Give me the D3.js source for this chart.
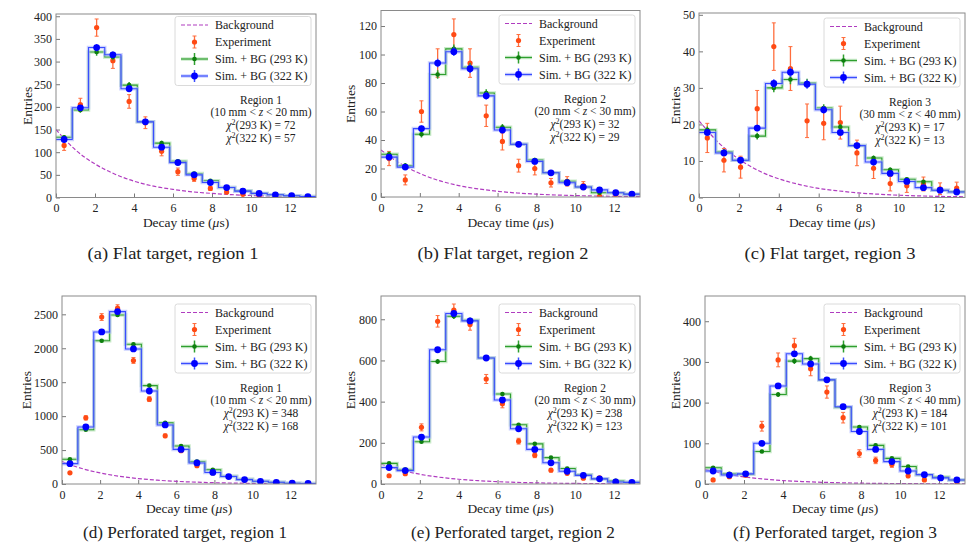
<!DOCTYPE html>
<html><head><meta charset="utf-8">
<script src="https://cdn.jsdelivr.net/npm/d3@7"></script>
<style>
body{margin:0;background:#fff;}
svg{display:block;}
text{font-family:"Liberation Serif","Times New Roman",serif;fill:#222;}
</style></head><body>
<svg id="c" width="968" height="542"></svg>
<script>
// ---------- DATA ----------
const binEdges = [0,0.833,1.667,2.5,3.333,4.167,5,5.833,6.667,7.5,8.333,9.167,10,10.833,11.667,12.5,13.333];
const bgTimes = [0,1,2,3,4,5,6,7,8,9,10,11,12,13.333];
const xTicks = [0,2,4,6,8,10,12];

const yTicksA = [0,50,100,150,200,250,300,350,400];
const yTicksB = [0,20,40,60,80,100,120];
const yTicksC = [0,10,20,30,40,50];
const yTicksD = [0,500,1000,1500,2000,2500];
const yTicksE = [0,200,400,600,800];
const yTicksF = [0,100,200,300,400];

const expA = [115,205,375,302,212,165,102,57,42,20,12,7,2,1,1,0.5];
const expErrA = [11,14,19,17,15,13,10,8,6.5,4.5,3.5,2.6,1.4,1,1,0.7];
const sim293A = [133,193,321,310,248,167,120,80,53,37,22,15,9,6,4,2];
const sim322A = [128,198,331,315,240,167,111,77,50,33,22,14,9,6,4,2];
const simErrA = [5,6,8,7,7,6,5,4,3.5,3,2.5,2,1.5,1.2,1,0.8];
const bgA = [150,105,74,52,36,25,18,12.5,9,6.3,4.4,3.1,2.2,1.3];

const expB = [27,12,60,94,114,94,57,39,22,20,10,11,8,0.5,2,1];
const expErrB = [5,3.5,7.5,10,11,10,7.5,6,4.5,4.5,3,3.3,2.8,0.7,1.4,1];
const sim293B = [30,22,44,86,104,91,73,49,37,26,17,11,7,3,3,2];
const sim322B = [28,21,48,94,102,90,71,47,37,25,17,10,7,5,3,2];
const simErrB = [2,1.8,2.2,3,3,3,2.6,2.2,1.9,1.6,1.3,1,0.8,0.6,0.5,0.4];
const bgB = [33,23.5,16.5,11.5,8,5.7,4,2.8,2,1.4,1,0.7,0.5,0.3];

const expC = [16.3,10.2,8.3,24.3,41.3,35.3,21,20.3,20.5,12.2,8,3.8,3.2,3.7,2.4,2.6];
const expErrC = [4,3.2,3,5,6.5,6,4.6,4.5,4.5,3.5,2.8,2,1.8,1.9,1.6,1.6];
const sim293C = [18.5,12.5,10.2,16.8,30,32.3,31.3,24.5,19.3,14.2,10.8,7.6,5,4.3,2,1.6];
const sim322C = [17.8,12.2,10.2,19,31.2,34.3,31,24,17.8,14.2,9.7,6.6,4.4,2.7,2,1.5];
const simErrC = [0.9,0.8,0.7,0.9,1.2,1.3,1.2,1,0.9,0.8,0.7,0.6,0.5,0.4,0.3,0.3];
const bgC = [21,14.9,10.5,7.3,5.1,3.6,2.5,1.8,1.25,0.9,0.62,0.44,0.31,0.2];

const expD = [165,975,2460,2590,1820,1250,710,490,270,165,110,60,35,20,10,5];
const expErrD = [13,31,50,51,43,35,27,22,16,13,10,8,6,4.5,3,2];
const sim293D = [365,800,2110,2490,2060,1450,900,560,330,210,115,70,40,25,12,8];
const sim322D = [300,840,2240,2540,1990,1370,870,510,310,170,110,65,40,25,12,8];
const simErrD = [10,15,25,27,24,20,16,12,9,7,5,4,3,2.5,2,1.5];
const bgD = [330,232,163,114,80,56,39,27.5,19,13.5,9.5,6.6,4.6,3];

const expE = [40,50,275,790,845,775,510,390,208,140,67,52,28,30,10,5];
const expErrE = [6,7,17,28,29,28,22,20,14,12,8,7,5,5.5,3,2];
const sim293E = [100,70,205,595,815,795,612,437,288,195,128,75,45,25,15,8];
const sim322E = [80,65,228,652,828,792,612,408,268,168,103,62,42,25,10,8];
const simErrE = [5,4,7,12,14,14,12,10,8,7,6,4,3,2.5,2,1.5];
const bgE = [97,68,47.5,33,23,16,11.3,7.9,5.5,3.9,2.7,1.9,1.3,0.9];

const expF = [10,18,22,142,305,340,283,226,163,75,58,48,20,10,15,5];
const expErrF = [3,4,5,12,17,18,17,15,13,9,8,7,4.5,3,4,2];
const sim293F = [40,25,24,80,220,302,308,256,188,140,95,63,43,23,17,10];
const sim322F = [32,22,25,100,241,320,295,256,190,129,85,55,32,23,15,10];
const simErrF = [2.5,2,2,4,6,7,7,6,5,4.5,4,3,2.5,2,1.8,1.5];
const bgF = [36,25,17.5,12.2,8.5,6,4.2,2.95,2.07,1.45,1.02,0.72,0.5,0.32];

const regionNames = ["Region 1","Region 2","Region 3","Region 1","Region 2","Region 3"];
const zLow = [10,20,30,10,20,30];
const zHigh = [20,30,40,20,30,40];
const chi293 = [72,32,17,348,238,184];
const chi322 = [57,29,13,168,123,101];
const captions = ["(a) Flat target, region 1","(b) Flat target, region 2","(c) Flat target, region 3",
  "(d) Perforated target, region 1","(e) Perforated target, region 2","(f) Perforated target, region 3"];
const legendLabels = ["Background","Experiment","Sim. + BG (293 K)","Sim. + BG (322 K)"];

// ---------- LAYOUT ----------
const panels = [
  {f:{l:56,r:316,t:14,b:197.5}, ymax:405, yt:yTicksA, exp:expA, ee:expErrA, g:sim293A, b:sim322A, se:simErrA, bg:bgA, legT:16.5, ylx:27, xly:222.5, capy:253.5, capx:173, capw:171},
  {f:{l:381,r:640,t:10.5,b:197}, ymax:130.9, yt:yTicksB, exp:expB, ee:expErrB, g:sim293B, b:sim322B, se:simErrB, bg:bgB, legT:15, ylx:350.5, xly:222.5, capy:253.5, capx:503, capw:171},
  {f:{l:699,r:965,t:13,b:197.5}, ymax:50.5, yt:yTicksC, exp:expC, ee:expErrC, g:sim293C, b:sim322C, se:simErrC, bg:bgC, legT:18, ylx:675, xly:222.5, capy:253.5, capx:830, capw:171},
  {f:{l:62,r:316,t:296,b:484}, ymax:2770, yt:yTicksD, exp:expD, ee:expErrD, g:sim293D, b:sim322D, se:simErrD, bg:bgD, legT:304, ylx:26, xly:508, capy:532, capx:185, capw:204},
  {f:{l:381,r:640,t:296,b:484}, ymax:913, yt:yTicksE, exp:expE, ee:expErrE, g:sim293E, b:sim322E, se:simErrE, bg:bgE, legT:304, ylx:350.5, xly:508, capy:532, capx:513, capw:204},
  {f:{l:705,r:965,t:296,b:484}, ymax:462, yt:yTicksF, exp:expF, ee:expErrF, g:sim293F, b:sim322F, se:simErrF, bg:bgF, legT:304, ylx:675.5, xly:508, capy:532, capx:835, capw:204}
];

const C = {
  bg:"#b03cc0", exp:"#ff4a14", expBar:"#ff6d3d",
  gLine:"#2f9f2f", gBand:"#a6dca6", gPt:"#0e7f0e",
  bLine:"#3a4dff", bBand:"#aab4ff", bPt:"#0000ff",
  frame:"#8a8a8a"
};

const svg = d3.select("#c");
const centers = d3.range(binEdges.length-1).map(i => (binEdges[i]+binEdges[i+1])/2);

panels.forEach((p, k) => {
  const f = p.f;
  const x = d3.scaleLinear().domain([0, binEdges[binEdges.length-1]]).range([f.l, f.r]);
  const y = d3.scaleLinear().domain([0, p.ymax]).range([f.b, f.t]);
  const g = svg.append("g");

  const clipId = "clip"+k;
  g.append("clipPath").attr("id", clipId).append("rect")
    .attr("x", f.l).attr("y", f.t).attr("width", f.r-f.l).attr("height", f.b-f.t);

  const xa = g.append("g").attr("transform", `translate(0,${f.b})`)
    .call(d3.axisBottom(x).tickValues(xTicks).tickSize(-4).tickPadding(4).tickFormat(d3.format("d")));
  const ya = g.append("g").attr("transform", `translate(${f.l},0)`)
    .call(d3.axisLeft(y).tickValues(p.yt).tickSize(-4).tickPadding(4).tickFormat(d3.format("d")));
  [xa, ya].forEach(a => {
    a.select(".domain").remove();
    a.selectAll(".tick line").attr("stroke", "#555").attr("stroke-width", 0.8);
    a.selectAll(".tick text").style("font-family", '"Liberation Serif",serif').style("font-size", "12px").attr("fill", "#222");
  });
  xa.selectAll(".tick text").attr("dy", "0.72em").attr("y", 6);

  const plot = g.append("g").attr("clip-path", `url(#${clipId})`);

  const bgLine = d3.line().x((d,i) => x(bgTimes[i])).y(d => y(d)).curve(d3.curveMonotoneX);
  plot.append("path").attr("d", bgLine(p.bg)).attr("fill", "none")
    .attr("stroke", C.bg).attr("stroke-width", 1.2).attr("stroke-dasharray", "4,2");

  const step = d3.line().x(d => x(d[0])).y(d => y(d[1])).curve(d3.curveStepAfter);
  const stepPts = vals => vals.map((v,i) => [binEdges[i], v]).concat([[binEdges[binEdges.length-1], vals[vals.length-1]]]);
  [[p.g, C.gLine, C.gBand], [p.b, C.bLine, C.bBand]].forEach(([vals, lc, bc]) => {
    plot.append("path").attr("d", step(stepPts(vals))).attr("fill", "none")
      .attr("stroke", bc).attr("stroke-width", 3.5).attr("opacity", 0.6);
    plot.append("path").attr("d", step(stepPts(vals))).attr("fill", "none")
      .attr("stroke", lc).attr("stroke-width", 1.1);
  });

  const ex = plot.append("g");
  p.exp.forEach((v,i) => {
    const cx = x(centers[i]), e = p.ee[i];
    const y1 = y(v+e), y2 = y(Math.max(v-e, 0));
    ex.append("line").attr("x1",cx).attr("x2",cx).attr("y1",y1).attr("y2",y2).attr("stroke",C.expBar).attr("stroke-width",1.3);
    ex.append("line").attr("x1",cx-2).attr("x2",cx+2).attr("y1",y1).attr("y2",y1).attr("stroke",C.expBar).attr("stroke-width",1);
    ex.append("line").attr("x1",cx-2).attr("x2",cx+2).attr("y1",y2).attr("y2",y2).attr("stroke",C.expBar).attr("stroke-width",1);
    ex.append("circle").attr("cx",cx).attr("cy",y(v)).attr("r",2.6).attr("fill",C.exp);
  });

  [[p.g, C.gLine, C.gPt, 2.3], [p.b, C.bLine, C.bPt, 3.4]].forEach(([vals, lc, pc, r]) => {
    const sg = plot.append("g");
    vals.forEach((v,i) => {
      const cx = x(centers[i]), e = p.se[i];
      sg.append("line").attr("x1",cx).attr("x2",cx).attr("y1",y(v+e)).attr("y2",y(Math.max(v-e,0))).attr("stroke",lc).attr("stroke-width",1.5);
      sg.append("circle").attr("cx",cx).attr("cy",y(v)).attr("r",r).attr("fill",pc);
    });
  });

  g.append("rect").attr("x", f.l).attr("y", f.t).attr("width", f.r-f.l).attr("height", f.b-f.t)
    .attr("fill", "none").attr("stroke", C.frame).attr("stroke-width", 1);

  // legend
  const lw = 136, lh = 69;
  const lx = f.r - 5 - lw, ly = p.legT;
  const lg = g.append("g").attr("transform", `translate(${lx},${ly})`);
  lg.append("rect").attr("width", lw).attr("height", lh).attr("rx", 2.5)
    .attr("fill", "#fff").attr("fill-opacity", 0.85).attr("stroke", "#d0d0d0").attr("stroke-width", 0.8);
  const rowY = [8.5, 25.5, 42.5, 59.5];
  const s0 = 6, s1 = 33, sm = 19.5;
  lg.append("line").attr("x1",s0).attr("x2",s1).attr("y1",rowY[0]).attr("y2",rowY[0])
    .attr("stroke",C.bg).attr("stroke-width",1.2).attr("stroke-dasharray","4,2");
  lg.append("line").attr("x1",sm).attr("x2",sm).attr("y1",rowY[1]-6).attr("y2",rowY[1]+6).attr("stroke",C.expBar).attr("stroke-width",1.3);
  lg.append("line").attr("x1",sm-2).attr("x2",sm+2).attr("y1",rowY[1]-6).attr("y2",rowY[1]-6).attr("stroke",C.expBar).attr("stroke-width",1);
  lg.append("line").attr("x1",sm-2).attr("x2",sm+2).attr("y1",rowY[1]+6).attr("y2",rowY[1]+6).attr("stroke",C.expBar).attr("stroke-width",1);
  lg.append("circle").attr("cx",sm).attr("cy",rowY[1]).attr("r",2.6).attr("fill",C.exp);
  [[2, C.gLine, C.gBand, C.gPt, 2.3], [3, C.bLine, C.bBand, C.bPt, 3.4]].forEach(([ri, lc, bc, pc, r]) => {
    lg.append("line").attr("x1",s0).attr("x2",s1).attr("y1",rowY[ri]).attr("y2",rowY[ri]).attr("stroke",bc).attr("stroke-width",3.5).attr("opacity",0.6);
    lg.append("line").attr("x1",s0).attr("x2",s1).attr("y1",rowY[ri]).attr("y2",rowY[ri]).attr("stroke",lc).attr("stroke-width",1.2);
    lg.append("line").attr("x1",sm).attr("x2",sm).attr("y1",rowY[ri]-6).attr("y2",rowY[ri]+6).attr("stroke",lc).attr("stroke-width",1.5);
    lg.append("circle").attr("cx",sm).attr("cy",rowY[ri]).attr("r",r).attr("fill",pc);
  });
  legendLabels.forEach((t,i) => {
    lg.append("text").attr("x", 40).attr("y", rowY[i]).attr("dy","0.35em")
      .style("font-size","12px").text(t);
  });

  // annotation
  const ax = f.r - 55, ay = ly + 83.5;
  const an = g.append("g").attr("text-anchor","middle").style("font-size","11.5px");
  an.append("text").attr("x",ax).attr("y",ay).attr("dy","0.35em").text(regionNames[k]);
  const t2 = an.append("text").attr("x",ax).attr("y",ay+12).attr("dy","0.35em");
  t2.append("tspan").text(`(${zLow[k]} mm < `);
  t2.append("tspan").style("font-style","italic").text("z");
  t2.append("tspan").text(` < ${zHigh[k]} mm)`);
  [[chi293[k],"293"],[chi322[k],"322"]].forEach(([v,T],j) => {
    const t = an.append("text").attr("x",ax).attr("y",ay+25+13*j).attr("dy","0.35em");
    t.append("tspan").style("font-style","italic").text("χ");
    t.append("tspan").attr("dy","-4").style("font-size","8px").text("2");
    t.append("tspan").attr("dy","4").text(`(${T} K) = ${v}`);
  });

  g.append("text").attr("transform", `translate(${p.ylx},${(f.t+f.b)/2}) rotate(-90)`)
    .attr("text-anchor","middle").attr("dy","0.35em").style("font-size","13.5px").text("Entries");
  const xl = g.append("text").attr("x",(f.l+f.r)/2).attr("y",p.xly).attr("dy","0.35em")
    .attr("text-anchor","middle").style("font-size","13.5px");
  xl.append("tspan").text("Decay time (");
  xl.append("tspan").style("font-style","italic").text("μ");
  xl.append("tspan").text("s)");

  g.append("text").attr("x",p.capx).attr("y",p.capy).attr("dy","0.35em").attr("text-anchor","middle")
    .attr("textLength", p.capw).attr("lengthAdjust","spacingAndGlyphs")
    .style("font-size","16.5px").attr("fill","#333").text(captions[k]);
});
</script>
</body></html>
